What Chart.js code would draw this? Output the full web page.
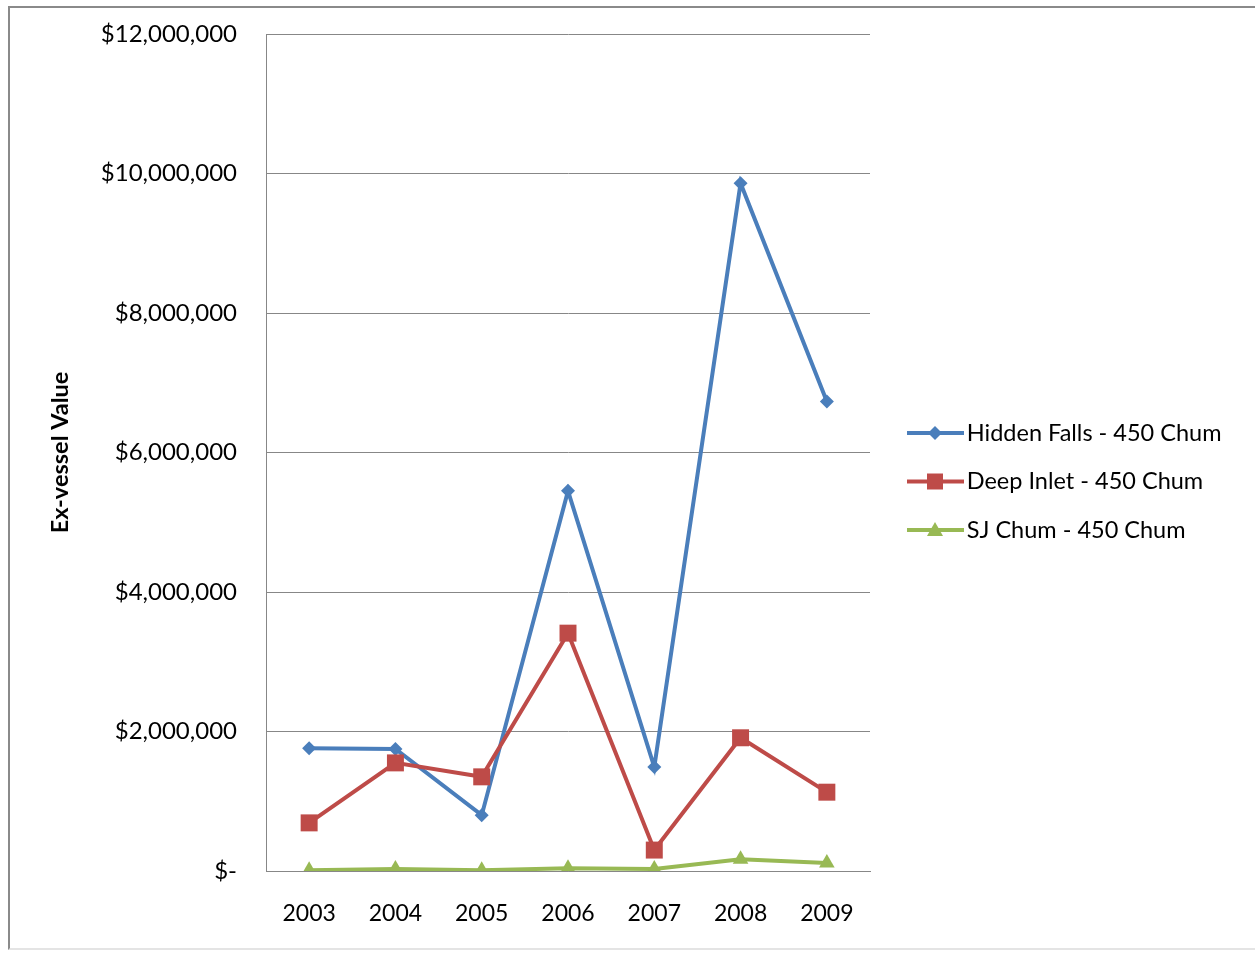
<!DOCTYPE html>
<html>
<head>
<meta charset="utf-8">
<title>Ex-vessel Value</title>
<script src="https://cdn.jsdelivr.net/npm/chart.js@4.4.1/dist/chart.umd.min.js"></script>
<style>
  html, body { margin: 0; padding: 0; background: #fff; overflow: hidden; }
  #frame {
    position: absolute; left: 8px; top: 6px; width: 1260px; height: 944px;
    border-left: 2px solid #8a8a8a; border-top: 2px solid #8a8a8a; border-bottom: 2px solid #e4e4e4;
    box-sizing: border-box;
  }
  #wrap { position: absolute; left: 0; top: 0; width: 1255px; height: 956px; }
</style>
</head>
<body>
<div id="frame"></div>
<div id="wrap"><canvas id="valueChart"></canvas></div>
<script>
// values
const years = ['2003', '2004', '2005', '2006', '2007', '2008', '2009'];
const hiddenFalls = [1760000, 1750000, 800000, 5450000, 1490000, 9860000, 6730000];
const deepInlet = [690000, 1550000, 1350000, 3410000, 300000, 1910000, 1130000];
const sjChum = [10000, 30000, 10000, 40000, 30000, 170000, 115000];
const yTicks = [0, 2000000, 4000000, 6000000, 8000000, 10000000, 12000000];
const seriesNames = ['Hidden Falls - 450 Chum', 'Deep Inlet - 450 Chum', 'SJ Chum - 450 Chum'];

const BLUE = '#4a7ebb';
const RED = '#be4b48';
const GREEN = '#98b954';
const GRID = '#878787';

Chart.defaults.font.family = 'Lato';
Chart.defaults.color = '#000';

// legend sizing, so the plot ends where the reference plot ends
const LEGEND_FONT = 23.5;
const LEGEND_PAD = 25;
const LEGEND_BOX = 60;
const PLOT_RIGHT = 870;
const measure = document.createElement('canvas').getContext('2d');
measure.font = LEGEND_FONT + 'px Lato';
const legendWidth = LEGEND_PAD + LEGEND_BOX + LEGEND_FONT / 2 +
    Math.max(...seriesNames.map(t => measure.measureText(t).width));
const rightPad = Math.max(0, 1255 - PLOT_RIGHT - legendWidth - 10);

// little line + marker picture for the legend
function legendIcon(color, shape) {
    const c = document.createElement('canvas');
    c.width = 80;
    c.height = 24;
    const g = c.getContext('2d');
    g.strokeStyle = color;
    g.fillStyle = color;
    g.lineWidth = 4;
    g.beginPath();
    g.moveTo(22, 12);
    g.lineTo(79, 12);
    g.stroke();
    const mx = 50, my = 12;
    g.beginPath();
    if (shape === 'rectRot') {
        g.moveTo(mx, my - 7);
        g.lineTo(mx + 7, my);
        g.lineTo(mx, my + 7);
        g.lineTo(mx - 7, my);
    } else if (shape === 'rect') {
        g.rect(mx - 8, my - 8, 16, 16);
    } else {
        g.moveTo(mx, my - 8);
        g.lineTo(mx + 8, my + 6);
        g.lineTo(mx - 8, my + 6);
    }
    g.closePath();
    g.fill();
    return c;
}

function money(v) {
    if (v === 0) return '$-';
    return '$' + v.toLocaleString('en-US');
}

const ctx = document.getElementById('valueChart').getContext('2d');

const valueChart = new Chart(ctx, {
    type: 'line',
    data: {
        labels: years,
        datasets: [
            {
                label: seriesNames[0],
                data: hiddenFalls,
                borderColor: BLUE,
                backgroundColor: BLUE,
                borderWidth: 4,
                pointStyle: 'rectRot',
                pointRadius: 7,
                pointBorderWidth: 0,
                order: 3,
                icon: legendIcon(BLUE, 'rectRot')
            },
            {
                label: seriesNames[1],
                data: deepInlet,
                borderColor: RED,
                backgroundColor: RED,
                borderWidth: 4,
                pointStyle: 'rect',
                pointRadius: 12,
                pointBorderWidth: 0,
                order: 2,
                icon: legendIcon(RED, 'rect')
            },
            {
                label: seriesNames[2],
                data: sjChum,
                borderColor: GREEN,
                backgroundColor: GREEN,
                borderWidth: 4,
                pointStyle: 'triangle',
                pointRadius: 9,
                pointBorderWidth: 0,
                order: 1,
                icon: legendIcon(GREEN, 'triangle')
            }
        ]
    },
    options: {
        responsive: true,
        maintainAspectRatio: false,
        animation: false,
        layout: {
            padding: { top: 34, bottom: 27, left: 0, right: rightPad }
        },
        scales: {
            x: {
                type: 'category',
                offset: true,
                grid: { drawOnChartArea: false, drawTicks: false },
                border: { color: GRID, width: 1 },
                ticks: { font: { size: 23 }, padding: 29, color: '#000' },
                afterFit: (s) => { s.height = 58; }
            },
            y: {
                min: yTicks[0],
                max: yTicks[yTicks.length - 1],
                ticks: {
                    stepSize: yTicks[1] - yTicks[0],
                    font: { size: 24 },
                    padding: 0,
                    color: '#000',
                    callback: (v) => money(v)
                },
                // invisible tick marks keep the labels away from the axis
                grid: { color: GRID, drawTicks: true, tickLength: 29, tickColor: 'rgba(0,0,0,0)' },
                border: { color: GRID, width: 1 },
                title: {
                    display: true,
                    text: 'Ex-vessel Value',
                    font: { size: 23.5, weight: 'bold' },
                    color: '#000',
                    padding: { top: 46, bottom: 0 }
                },
                afterFit: (s) => { s.width = 266; }
            }
        },
        plugins: {
            legend: {
                position: 'right',
                maxWidth: 500,
                labels: {
                    usePointStyle: true,
                    pointStyleWidth: LEGEND_BOX,
                    boxHeight: 22,
                    padding: LEGEND_PAD,
                    font: { size: LEGEND_FONT },
                    color: '#000',
                    generateLabels: (chart) => chart.data.datasets.map((ds, i) => ({
                        text: ds.label,
                        fillStyle: ds.borderColor,
                        strokeStyle: ds.borderColor,
                        lineWidth: 0,
                        pointStyle: ds.icon,
                        hidden: !chart.isDatasetVisible(i),
                        datasetIndex: i,
                        fontColor: '#000'
                    }))
                }
            },
            tooltip: { enabled: false }
        }
    }
});
</script>
</body>
</html>
